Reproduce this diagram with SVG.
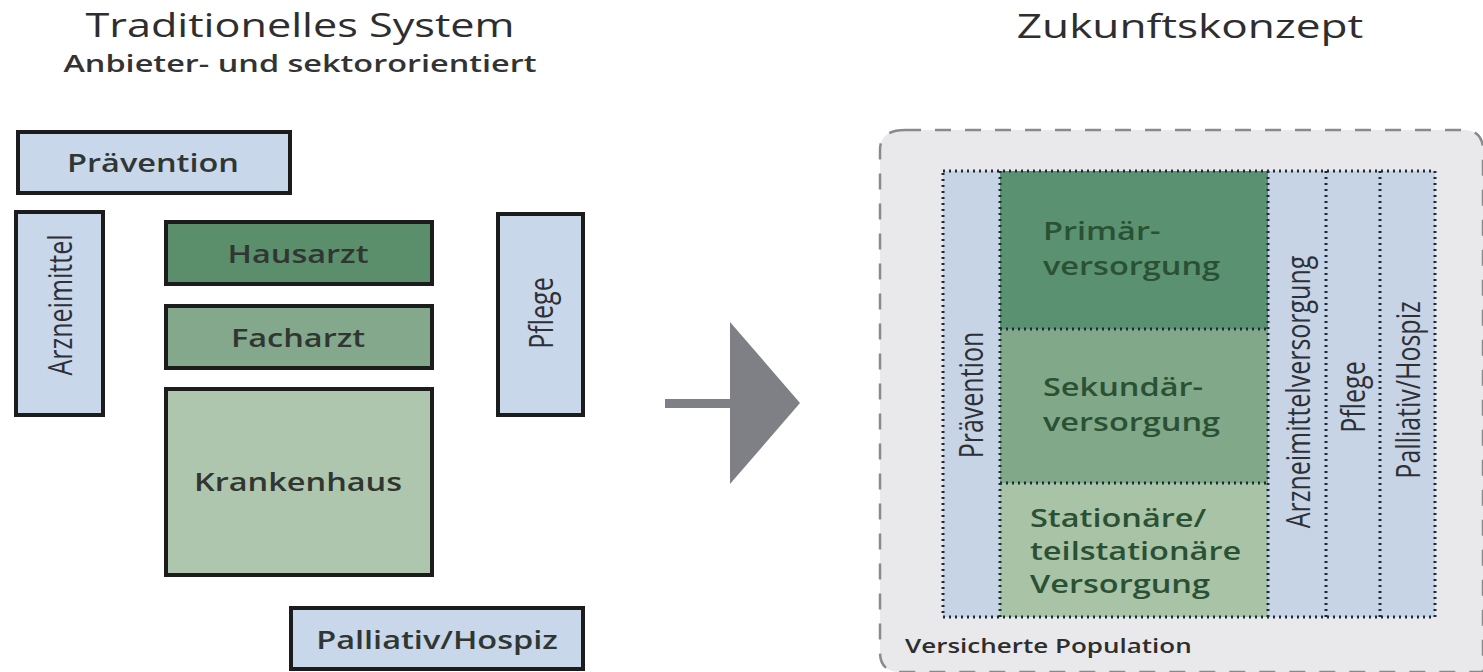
<svg xmlns="http://www.w3.org/2000/svg" width="1483" height="672" viewBox="0 0 1483 672">
<style>
text{font-family:"Open Sans","Noto Sans","Liberation Sans",sans-serif;fill:#2e2e2e}
.t{font-size:32px;text-anchor:middle}
.st{font-size:23px;font-weight:600;text-anchor:middle;fill:#333}
.b{stroke:#1c1c1c;stroke-width:4}
.blue{fill:#c9d7ea}
.l{font-size:26px;font-weight:600;text-anchor:middle;dominant-baseline:central;fill:#303632}
.r{font-size:26px;font-weight:600;fill:#2a5134}
.v{font-size:25px;text-anchor:middle;dominant-baseline:central;fill:#2e3036}
.dot{fill:none;stroke:#1c2a3a;stroke-width:3;stroke-dasharray:2 4}
</style>
<rect width="1483" height="672" fill="#fff"/>
<g id="title-left">
<text class="t" transform="translate(300 37) scale(1.35 1)">Traditionelles System</text>
<text class="st" transform="translate(300 72) scale(1.41 1)">Anbieter- und sektororientiert</text>
</g>
<g id="title-right"><text class="t" transform="translate(1190 38) scale(1.38 1)">Zukunftskonzept</text></g>

<g id="praevention-l"><rect class="b blue" x="18" y="132" width="272" height="61"/><text class="l" transform="translate(153 162) scale(1.25 1)">Prävention</text></g>
<g id="arzneimittel-l"><rect class="b blue" x="16" y="212" width="87" height="203"/><text class="v" transform="translate(59 305) rotate(-90) scale(1 1.3)">Arzneimittel</text></g>
<g id="hausarzt"><rect class="b" fill="#5b8f6c" x="166" y="222" width="266" height="62"/><text class="l" transform="translate(298 253) scale(1.25 1)">Hausarzt</text></g>
<g id="facharzt"><rect class="b" fill="#84a88c" x="166" y="306" width="266" height="62"/><text class="l" transform="translate(298 337) scale(1.25 1)">Facharzt</text></g>
<g id="krankenhaus"><rect class="b" fill="#afc6ae" x="166" y="389" width="266" height="186"/><text class="l" transform="translate(298 481) scale(1.25 1)">Krankenhaus</text></g>
<g id="pflege-l"><rect class="b blue" x="498" y="214" width="85" height="201"/><text class="v" transform="translate(540 313) rotate(-90) scale(1 1.3)">Pflege</text></g>
<g id="palliativ-l"><rect class="b blue" x="291" y="608" width="292" height="61"/><text class="l" transform="translate(437 639) scale(1.25 1)">Palliativ/Hospiz</text></g>

<g id="connectors">
<rect x="665" y="399" width="70" height="9" fill="#7f8085"/>
<polygon points="730,322 800,403 730,484" fill="#7f8085"/>
</g>

<g id="population">
<path d="M905,130 H1463 Q1483,130 1483,150 V672 H900 Q880,672 880,652 V150 Q880,130 905,130 Z" fill="#e9e9eb" stroke="#8a8a8c" stroke-width="2.5" stroke-dasharray="16 14"/>
<text transform="translate(905 653) scale(1.3 1)" font-size="20" font-weight="600" fill="#666">Versicherte Population</text>
</g>
<g id="praevention-r"><rect x="943" y="171" width="57" height="446" fill="#c6d4e6"/><text class="v" transform="translate(970 395) rotate(-90) scale(1 1.3)">Prävention</text></g>
<g id="primaer"><rect x="1000" y="171" width="268" height="158" fill="#5a9170"/><text class="r" transform="translate(1043 240) scale(1.25 1)">Primär-</text><text class="r" transform="translate(1043 275) scale(1.25 1)">versorgung</text></g>
<g id="sekundaer"><rect x="1000" y="329" width="268" height="154" fill="#82a88a"/><text class="r" transform="translate(1043 396) scale(1.25 1)">Sekundär-</text><text class="r" transform="translate(1043 431) scale(1.25 1)">versorgung</text></g>
<g id="stationaer"><rect x="1000" y="483" width="268" height="134" fill="#a9c3a6"/><text class="r" transform="translate(1030 527) scale(1.25 1)">Stationäre/</text><text class="r" transform="translate(1030 560) scale(1.25 1)">teilstationäre</text><text class="r" transform="translate(1030 593) scale(1.25 1)">Versorgung</text></g>
<g id="arznei-r"><rect x="1268" y="171" width="58" height="446" fill="#c6d4e6"/><text class="v" transform="translate(1297 392) rotate(-90) scale(1 1.3)">Arzneimittelversorgung</text></g>
<g id="pflege-r"><rect x="1326" y="171" width="54" height="446" fill="#c6d4e6"/><text class="v" transform="translate(1352 397) rotate(-90) scale(1 1.3)">Pflege</text></g>
<g id="palliativ-r"><rect x="1380" y="171" width="55" height="446" fill="#c6d4e6"/><text class="v" transform="translate(1407 390) rotate(-90) scale(1 1.3)">Palliativ/Hospiz</text></g>
<g id="dotted-lines">
<rect class="dot" x="943" y="171" width="492" height="446"/>
<path class="dot" d="M1000,171 V617 M1268,171 V617 M1326,171 V617 M1380,171 V617 M1000,329 H1268 M1000,483 H1268"/>
</g>
</svg>
